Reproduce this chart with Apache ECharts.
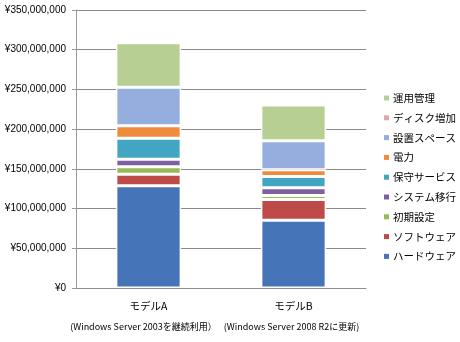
<!DOCTYPE html>
<html>
<head>
<meta charset="utf-8">
<script src="https://cdn.jsdelivr.net/npm/echarts@6/dist/echarts.min.js"></script>
<style>html,body{margin:0;padding:0;background:#fff;}#c{width:460px;height:342px;}</style>
</head>
<body>
<div id="c"></div>
<script>
var categories = ['モデルA', 'モデルB'];
var subtitles = ['(Windows Server 2003を継続利用）', '(Windows Server 2008 R2に更新)'];
var seriesNames = ['ハードウェア', 'ソフトウェア', '初期設定', 'システム移行', '保守サービス', '電力', '設置スペース', 'ディスク増加', '運用管理'];
var hardware  = [128700000, 85400000];
var software  = [14600000, 26000000];
var initial   = [9300000, 5100000];
var migration = [9600000, 9800000];
var maintenance = [26400000, 14100000];
var power     = [15600000, 8400000];
var space     = [48500000, 36500000];
var disk      = [0, 0];
var operation = [56100000, 45100000];
var yTicks = [0, 350000000, 50000000];
var colors = ['#4674B8', '#BE4B48', '#98B954', '#7D60A0', '#42A5C2', '#F08B3C', '#95AEDD', '#E0A9A8', '#B7CF92'];

var values = [hardware, software, initial, migration, maintenance, power, space, disk, operation];

function yen(v) {
  return '¥' + String(v).replace(/\B(?=(\d{3})+(?!\d))/g, ',');
}

var chart = echarts.init(document.getElementById('c'), null, {renderer: 'canvas'});
chart.setOption({
  animation: false,
  backgroundColor: '#fff',
  grid: {left: 76, right: 94, top: 10, bottom: 54, containLabel: false},
  legend: {
    orient: 'vertical',
    left: 384,
    top: 91,
    padding: 0,
    itemWidth: 5,
    itemHeight: 5,
    itemGap: 5.8,
    icon: 'rect',
    itemStyle: {borderWidth: 0},
    data: seriesNames.slice().reverse(),
    textStyle: {fontFamily: 'Noto Sans CJK JP', fontSize: 10.5, lineHeight: 14, color: '#000', padding: [0, 0, 0, -1]}
  },
  xAxis: {
    type: 'category',
    data: categories,
    axisLine: {lineStyle: {color: '#8f8f8f', width: 1}},
    axisTick: {show: false},
    axisLabel: {
      margin: 11,
      interval: 0,
      formatter: function (v, i) {
        return '{main|' + v + '}\n{' + (i === 0 ? 'subA' : 'subB') + '|' + subtitles[i] + '}';
      },
      rich: {
        main: {fontFamily: 'Noto Sans CJK JP', fontSize: 10.5, lineHeight: 14, color: '#000'},
        subA: {fontFamily: 'Noto Sans CJK JP', fontSize: 9, lineHeight: 28, color: '#000', padding: [0, 10, 0, 0]},
        subB: {fontFamily: 'Noto Sans CJK JP', fontSize: 9, lineHeight: 28, color: '#000', padding: [0, 4, 0, 0]}
      }
    }
  },
  yAxis: {
    type: 'value',
    min: yTicks[0],
    max: yTicks[1],
    interval: yTicks[2],
    axisLine: {show: true, lineStyle: {color: '#9a9a9a'}},
    axisTick: {show: true, length: 4, lineStyle: {color: '#9a9a9a'}},
    splitLine: {show: true, lineStyle: {color: '#8a8a8a', width: 1}},
    axisLabel: {
      margin: 10,
      formatter: yen,
      fontFamily: 'Liberation Sans',
      fontSize: 10,
      color: '#000'
    }
  },
  series: seriesNames.map(function (name, k) {
    return {
      name: name,
      type: 'bar',
      stack: 'total',
      barWidth: '45%',
      data: values[k],
      itemStyle: {color: colors[k], borderColor: '#fff', borderWidth: 1.5}
    };
  })
});
</script>
</body>
</html>
